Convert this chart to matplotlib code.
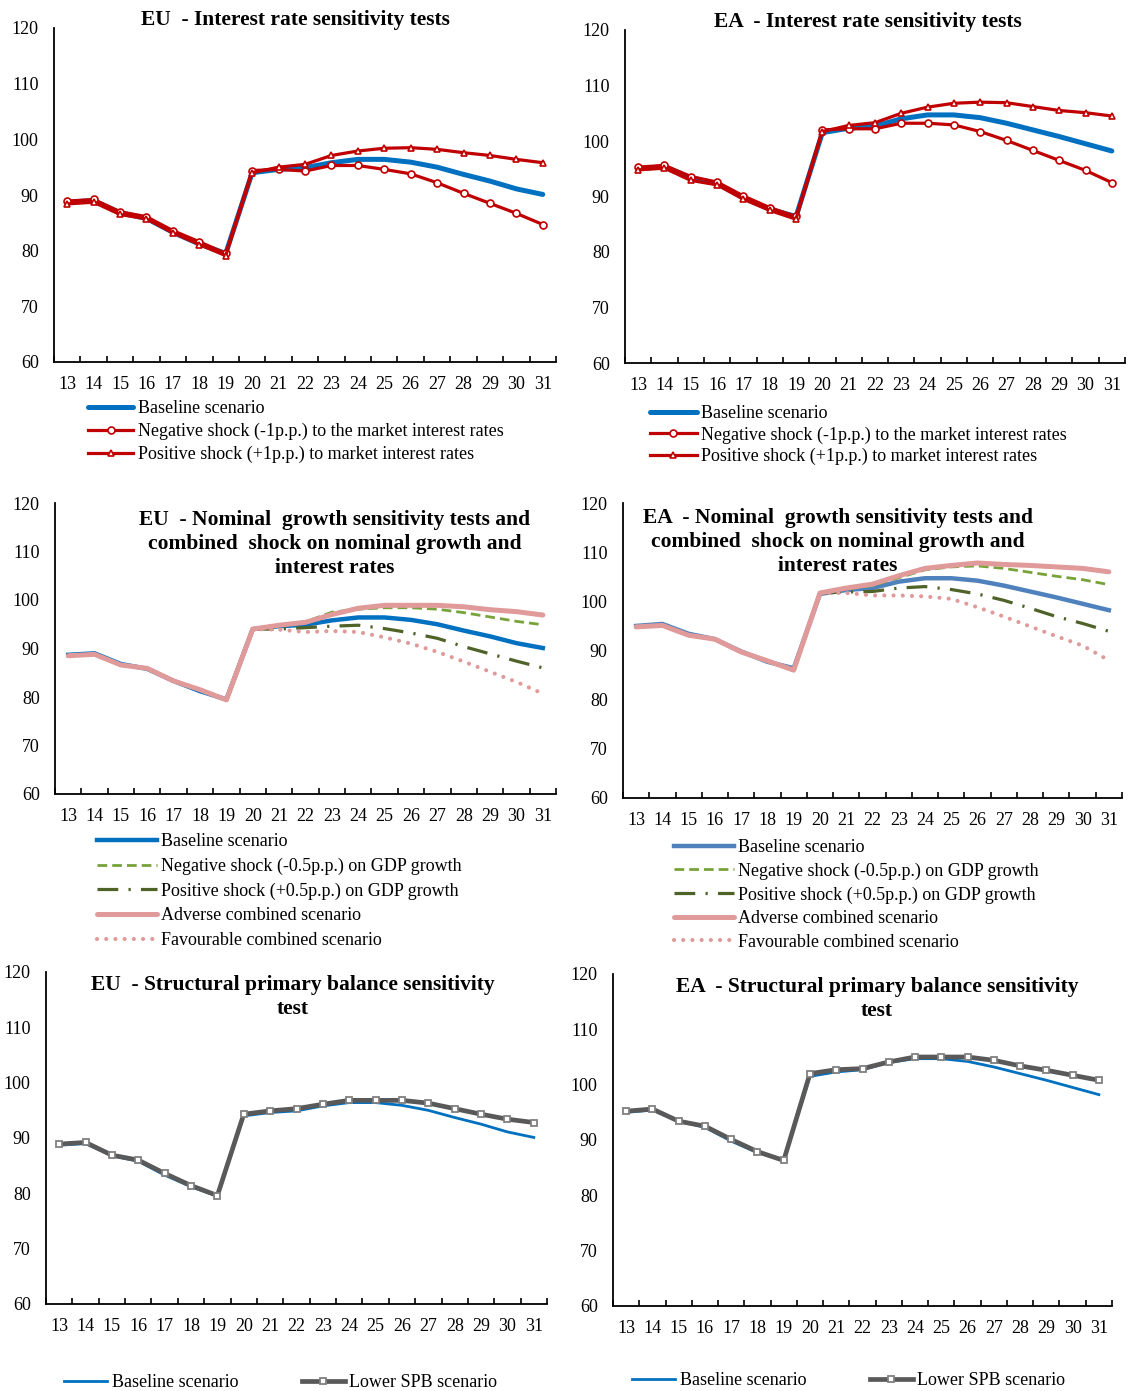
import matplotlib
matplotlib.use("Agg")
import matplotlib.pyplot as plt
import numpy as np

plt.rcParams['font.family'] = ['Liberation Serif', 'DejaVu Serif']

# years on the horizontal axis (20xx)
years = ['13', '14', '15', '16', '17', '18', '19', '20', '21', '22',
         '23', '24', '25', '26', '27', '28', '29', '30', '31']

# debt ratios, % of GDP
eu_base = [88.7, 89.0, 86.8, 85.8, 83.3, 81.2, 79.5, 94.0, 94.6, 94.9,
           95.8, 96.4, 96.4, 95.9, 95.0, 93.7, 92.5, 91.1, 90.1]
eu_neg_ir = [88.9, 89.2, 87.0, 86.1, 83.6, 81.6, 79.5, 94.4, 94.6, 94.3,
             95.3, 95.3, 94.6, 93.8, 92.2, 90.3, 88.5, 86.7, 84.7]
eu_pos_ir = [88.4, 88.7, 86.5, 85.7, 83.2, 81.1, 79.1, 94.0, 95.0, 95.5,
             97.1, 97.9, 98.4, 98.5, 98.2, 97.6, 97.1, 96.4, 95.8]

ea_base = [95.0, 95.4, 93.4, 92.3, 89.8, 87.7, 86.4, 101.5, 102.3, 102.7,
           104.0, 104.7, 104.7, 104.2, 103.2, 102.0, 100.8, 99.5, 98.2]
ea_neg_ir = [95.3, 95.6, 93.6, 92.6, 90.1, 88.0, 86.4, 102.0, 102.2, 102.2,
             103.2, 103.2, 102.9, 101.7, 100.1, 98.3, 96.5, 94.7, 92.5]
ea_pos_ir = [94.8, 95.1, 92.9, 92.1, 89.5, 87.5, 85.9, 101.7, 102.8, 103.3,
             105.0, 106.1, 106.8, 107.0, 106.9, 106.2, 105.5, 105.1, 104.5]

nan = np.nan
eu_neg_g = [nan] * 7 + [94.0, 94.7, 95.5, 97.5, 98.1, 98.4, 98.4, 98.1, 97.4, 96.5, 95.6, 94.9]
eu_pos_g = [nan] * 7 + [94.0, 94.0, 94.3, 94.6, 94.8, 94.1, 93.2, 92.1, 90.4, 88.9, 87.4, 86.0]
eu_adverse = [88.5, 88.8, 86.6, 85.9, 83.3, 81.5, 79.4, 94.0, 94.8, 95.4,
              97.0, 98.3, 98.9, 98.9, 98.9, 98.6, 98.0, 97.6, 96.9]
eu_favour = [nan] * 7 + [94.0, 93.9, 93.4, 93.6, 93.4, 92.3, 91.0, 89.3, 87.3, 85.2, 83.1, 80.7]

ea_neg_g = [nan] * 7 + [101.7, 102.5, 103.2, 104.8, 106.4, 107.0, 107.2, 106.7, 105.9, 105.1, 104.4, 103.4]
ea_pos_g = [nan] * 7 + [101.7, 101.9, 102.0, 102.7, 103.0, 102.4, 101.5, 100.2, 98.6, 96.9, 95.5, 93.9]
ea_adverse = [94.8, 95.1, 93.1, 92.3, 89.7, 87.9, 86.0, 101.7, 102.7, 103.5,
              105.2, 106.7, 107.3, 107.8, 107.5, 107.3, 107.0, 106.7, 106.0]
ea_favour = [nan] * 7 + [101.7, 101.7, 101.2, 101.2, 101.0, 100.5, 98.8, 96.9, 94.9, 92.9, 91.0, 88.0]

eu_spb = [88.9, 89.2, 86.9, 86.0, 83.6, 81.4, 79.6, 94.3, 94.9, 95.3,
          96.1, 96.8, 96.8, 96.8, 96.3, 95.3, 94.3, 93.4, 92.8]
ea_spb = [95.2, 95.6, 93.4, 92.5, 90.1, 87.9, 86.3, 102.0, 102.7, 102.9,
          104.1, 105.0, 105.0, 105.0, 104.4, 103.4, 102.6, 101.7, 100.8]

BLUE = '#0070C0'
BLUE2 = '#4F81BD'
RED = '#C00000'
LGREEN = '#77A33A'
DGREEN = '#4F6228'
PINK = '#E09A9A'
GREY = '#595959'

W, H = 1128, 1391
fig = plt.figure(figsize=(W / 100, H / 100), dpi=100)
x = np.arange(len(years))


def px_axes(left, right, top, bottom):
    return fig.add_axes([left / W, 1 - bottom / H, (right - left) / W, (bottom - top) / H])


def style(ax):
    ax.set_xlim(-0.5, len(years) - 0.5)
    ax.set_ylim(60, 120)
    ax.set_yticks(range(60, 121, 10))
    ax.set_xticks(x)
    ax.set_xticklabels(years)
    ax.set_xticks(np.arange(-0.5, len(years)), minor=True)
    ax.tick_params(axis='x', which='major', length=0, labelsize=13, pad=10)
    ax.tick_params(axis='x', which='minor', length=4, direction='in', width=1.2)
    ax.tick_params(axis='y', length=0, labelsize=13, pad=11)
    for s in ['top', 'right']:
        ax.spines[s].set_visible(False)
    for s in ['left', 'bottom']:
        ax.spines[s].set_linewidth(1.3)


def title(cx, cy, txt):
    fig.text(cx / W, 1 - cy / H, txt, ha='center', va='center',
             fontsize=15.5, fontweight='bold', linespacing=1.28)


def legend(ax, lx, ty, hl, sp, **kw):
    ax.legend(loc='upper left', bbox_to_anchor=(lx / W, 1 - ty / H),
              bbox_transform=fig.transFigure, frameon=False, fontsize=13,
              borderpad=0, borderaxespad=0, handlelength=hl, handletextpad=0.25,
              labelspacing=sp, numpoints=1, **kw)


mk = dict(markersize=5, markerfacecolor='white', markeredgewidth=1.2)

# interest rate tests
for (l, r, t, b), base, neg, pos, cx, cy, lab, lx, ty, hl, sp in [
        ((54, 556, 28, 362), eu_base, eu_neg_ir, eu_pos_ir, 295, 20, 'EU', 88, 400, 2.5, 0.32),
        ((625, 1125, 30, 363), ea_base, ea_neg_ir, ea_pos_ir, 868, 22, 'EA', 650, 405, 2.6, 0.24)]:
    ax = px_axes(l, r, t, b)
    ax.plot(x, base, color=BLUE, lw=3.6, solid_capstyle='round', label='Baseline scenario')
    ax.plot(x, neg, color=RED, lw=2.3, marker='o', markeredgecolor=RED, **mk,
            label='Negative shock (-1p.p.) to the market interest rates')
    ax.plot(x, pos, color=RED, lw=2.3, marker='^', markeredgecolor=RED, **mk,
            label='Positive shock (+1p.p.) to market interest rates')
    style(ax)
    title(cx, cy, lab + '  - Interest rate sensitivity tests')
    legend(ax, lx, ty, hl, sp)

# nominal growth and combined shocks
for (l, r, t, b), base, bcol, neg, pos, adv, fav, cx, cy, lab, lx, ty, sp in [
        ((55, 556, 503, 794), eu_base, BLUE, eu_neg_g, eu_pos_g, eu_adverse, eu_favour,
         335, 544, 'EU', 97, 833, 0.42),
        ((623, 1122, 503, 798), ea_base, BLUE2, ea_neg_g, ea_pos_g, ea_adverse, ea_favour,
         838, 542, 'EA', 674, 839, 0.36)]:
    ax = px_axes(l, r, t, b)
    ax.plot(x, base, color=bcol, lw=3.2, label='Baseline scenario')
    ax.plot(x, neg, color=LGREEN, lw=2.0, dashes=(3.5, 1.8),
            label='Negative shock (-0.5p.p.) on GDP growth')
    ax.plot(x, pos, color=DGREEN, lw=2.3, dashes=(6.5, 3.2, 0.7, 3.2),
            label='Positive shock (+0.5p.p.) on GDP growth')
    ax.plot(x, adv, color=PINK, lw=3.6, solid_capstyle='round', label='Adverse combined scenario')
    ax.plot(x, fav, color=PINK, lw=3.0, dashes=(0.01, 2.2), dash_capstyle='round',
            label='Favourable combined scenario')
    style(ax)
    title(cx, cy, lab + '  - Nominal  growth sensitivity tests and\n'
          'combined  shock on nominal growth and\ninterest rates')
    legend(ax, lx, ty, 3.3, sp)

# structural primary balance test
for (l, r, t, b), base, spb, cx, cy, lab, lx, ty in [
        ((46, 547, 972, 1304), eu_base, eu_spb, 293, 997, 'EU', 64, 1374),
        ((613, 1112, 974, 1306), ea_base, ea_spb, 877, 999, 'EA', 632, 1372)]:
    ax = px_axes(l, r, t, b)
    ax.plot(x, base, color=BLUE, lw=2.0, label='Baseline scenario')
    ax.plot(x, spb, color=GREY, lw=3.4, marker='s', markersize=5, markerfacecolor='white',
            markeredgecolor='#808080', markeredgewidth=1.3, label='Lower SPB scenario')
    style(ax)
    title(cx, cy, lab + '  - Structural primary balance sensitivity\ntest')
    legend(ax, lx, ty, 2.4, 0.2, ncol=2, columnspacing=3.5)

fig.savefig('out.png', dpi=100)
